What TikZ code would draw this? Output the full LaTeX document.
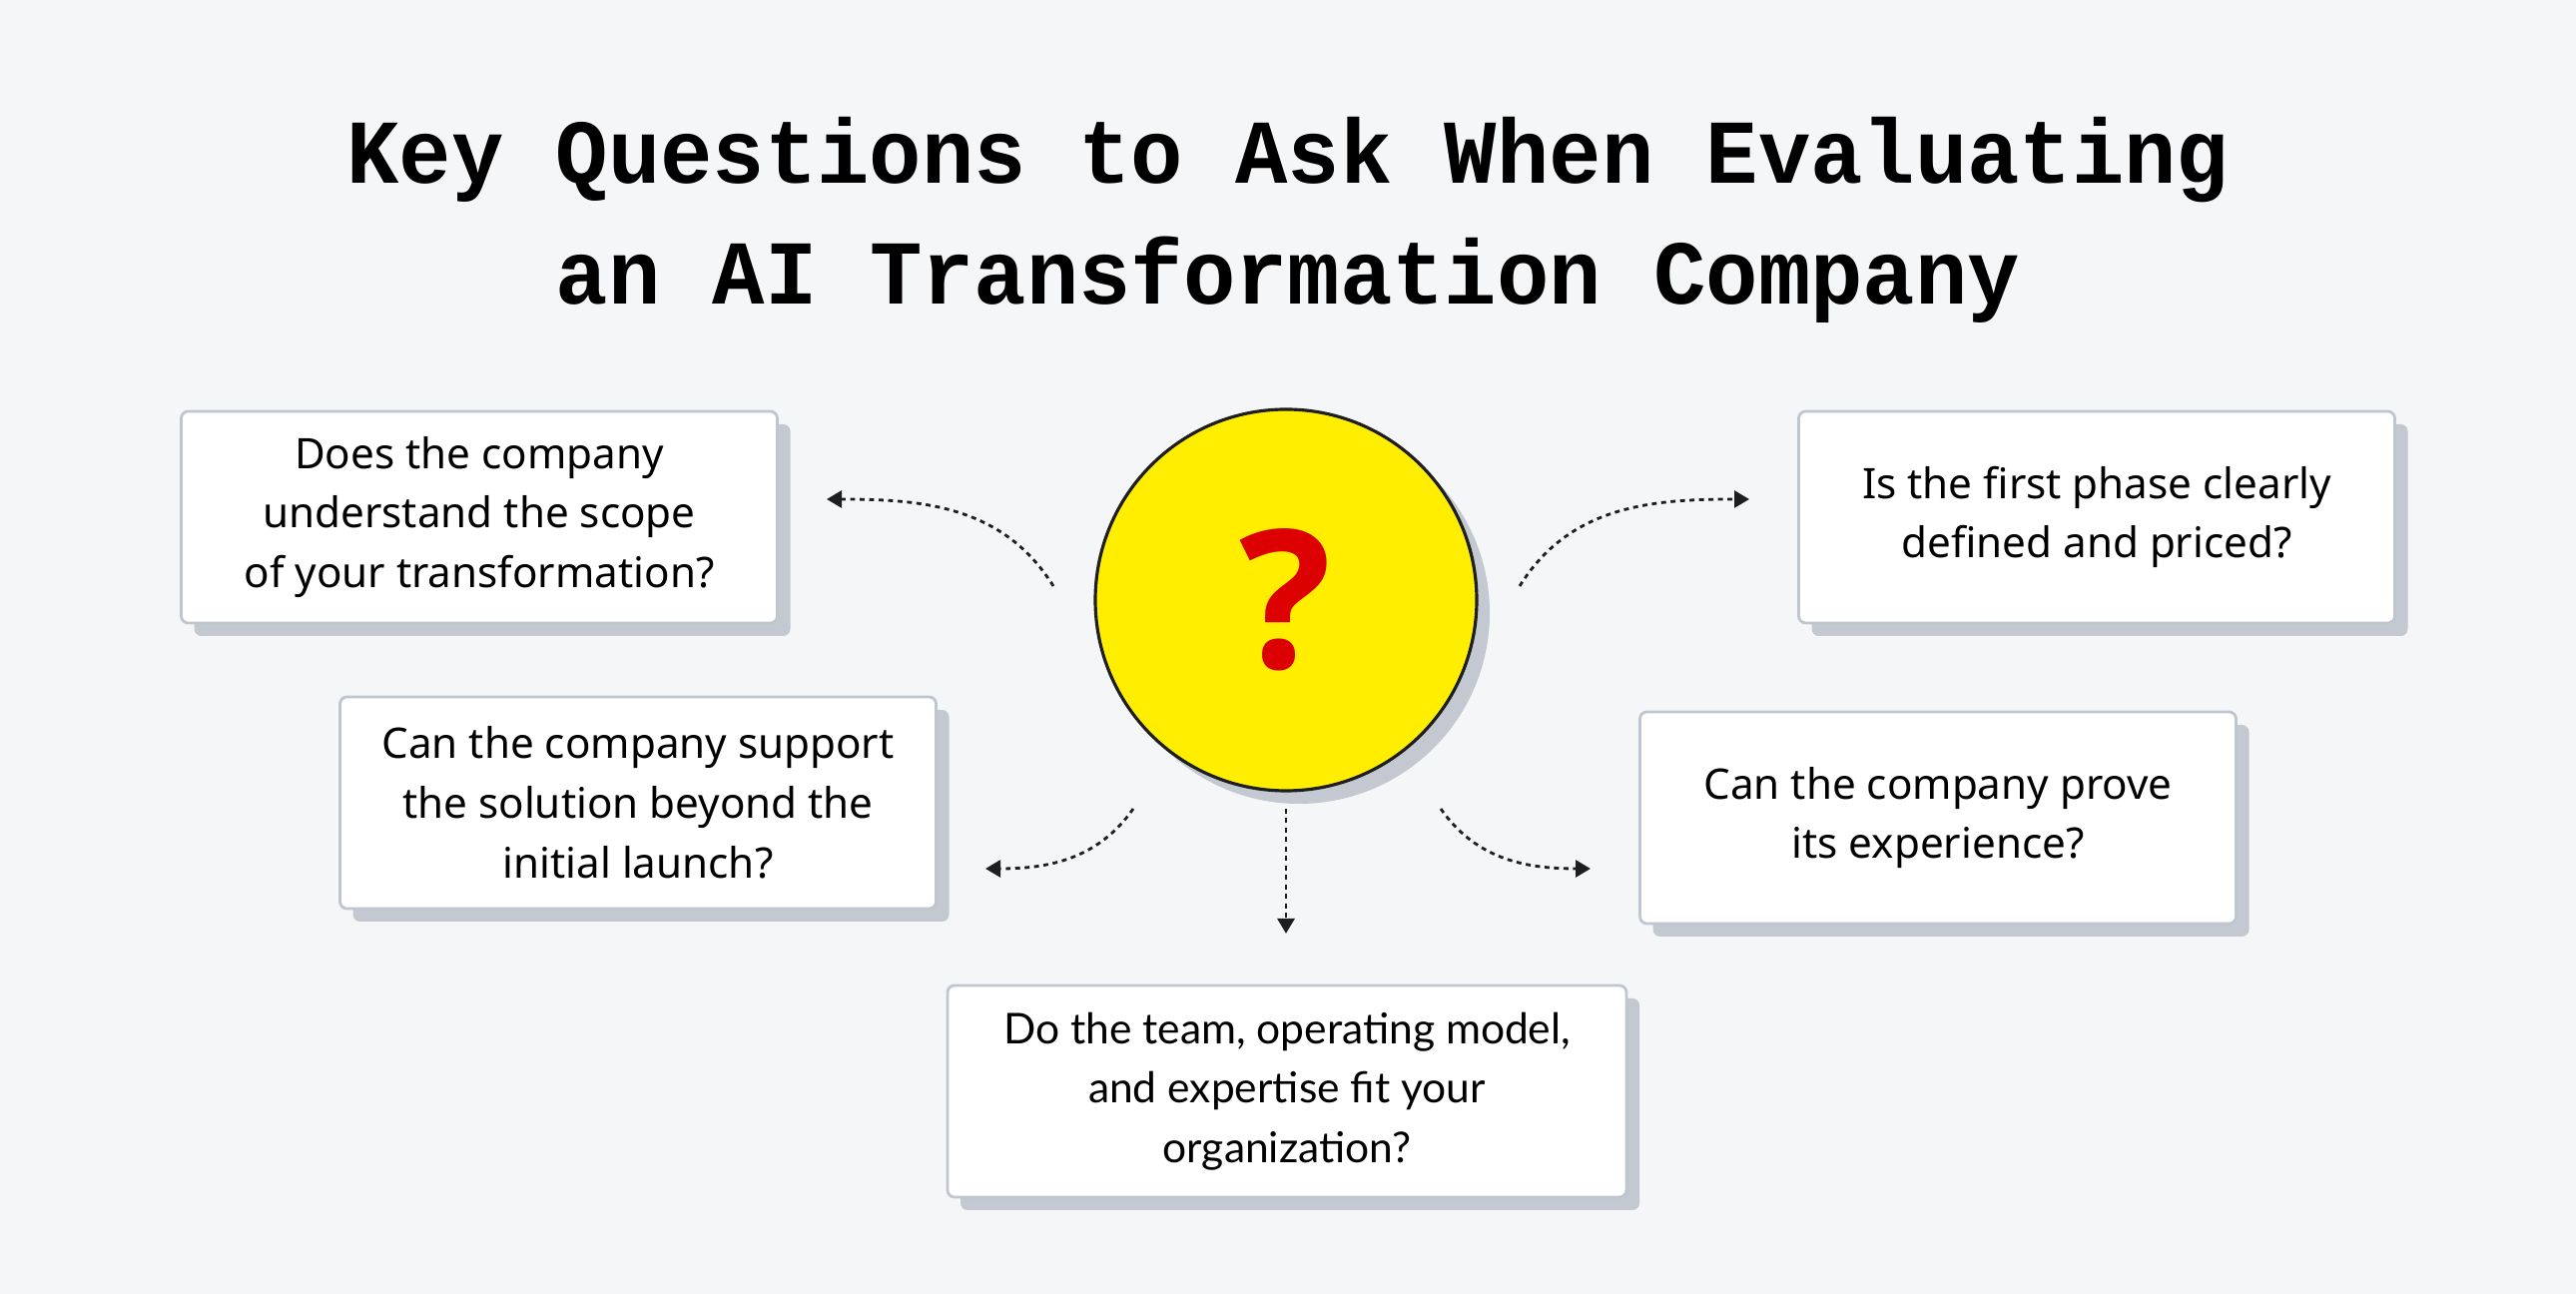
\documentclass[tikz,border=0pt]{standalone}
\usepackage{fontspec}
\setmainfont{Noto Sans}
\newfontfamily\titlefont[FakeStretch=0.955]{Liberation Mono}
\newfontfamily\latofont{Lato}
\newfontfamily\markfont{Open Sans}
\usetikzlibrary{arrows.meta,shadows}
\definecolor{bg}{HTML}{F5F6F8}
\definecolor{shade}{HTML}{C3C8D1}
\definecolor{rim}{HTML}{C0C6CF}
\definecolor{sun}{HTML}{FFEE00}
\definecolor{ink}{HTML}{1E1E1E}
\definecolor{alarm}{HTML}{DD0000}
\begin{document}
\begin{tikzpicture}[
    question/.style={draw=rim, line width=0.8pt, fill=white, rounded corners=0.07cm,
      minimum width=5.97cm, minimum height=2.12cm, align=center,
      font=\fontsize{12}{17}\selectfont, text=black,
      drop shadow={shadow xshift=0.13cm, shadow yshift=-0.13cm, fill=shade, opacity=1}},
    link/.style={ink, line width=0.8pt, dash pattern=on 1.4pt off 1.3pt,
      -{Triangle[length=0.15cm,width=0.17cm]}}
  ]
  \fill[bg] (0,0) rectangle (25.8,12.96);
  \useasboundingbox (0,0) rectangle (25.8,12.96);
  \node (title) at (12.9,10.76) [align=center, font=\titlefont\bfseries\fontsize{26}{34.4}\selectfont]
    {Key Questions to Ask When Evaluating\\an AI Transformation Company};
  \node (hub) at (12.88,6.95) [circle, minimum size=3.82cm, fill=sun, draw=ink, line width=0.9pt,
    drop shadow={shadow xshift=0.13cm, shadow yshift=-0.13cm, fill=shade, opacity=1}]
    {\markfont\bfseries\fontsize{55}{60}\selectfont\textcolor{alarm}{?}};
  \node (scope) at (4.80,7.78) [question] {Does the company\\understand the scope\\of your transformation?};
  \node (phase) at (21.00,7.78) [question] {Is the first phase clearly\\defined and priced?};
  \node (support) at (6.39,4.92) [question] {Can the company support\\the solution beyond the\\initial launch?};
  \node (proof) at (19.41,4.77) [question] {Can the company prove\\its experience?};
  \node (fit) at (12.89,2.03) [question, minimum width=6.80cm, font=\latofont\fontsize{12.1}{17}\selectfont]
    {Do the team, operating model,\\and expertise fit your\\organization?};
  \coordinate (s1) at (10.55,7.09);
  \coordinate (e1) at (8.28,7.96);
  \coordinate (s2) at (15.22,7.09);
  \coordinate (e2) at (17.52,7.96);
  \coordinate (s3) at (11.35,4.86);
  \coordinate (e3) at (9.87,4.26);
  \coordinate (s4) at (14.43,4.86);
  \coordinate (e4) at (15.93,4.26);
  \coordinate (s5) at (12.88,4.86);
  \coordinate (e5) at (12.88,3.61);
  \begin{scope}
    \draw[link] (s1) to[out=122,in=0] (e1);
    \draw[link] (s2) to[out=58,in=180] (e2);
    \draw[link] (s3) to[out=235,in=0] (e3);
    \draw[link] (s4) to[out=305,in=180] (e4);
    \draw[link] (s5) to (e5);
  \end{scope}
\end{tikzpicture}
\end{document}
